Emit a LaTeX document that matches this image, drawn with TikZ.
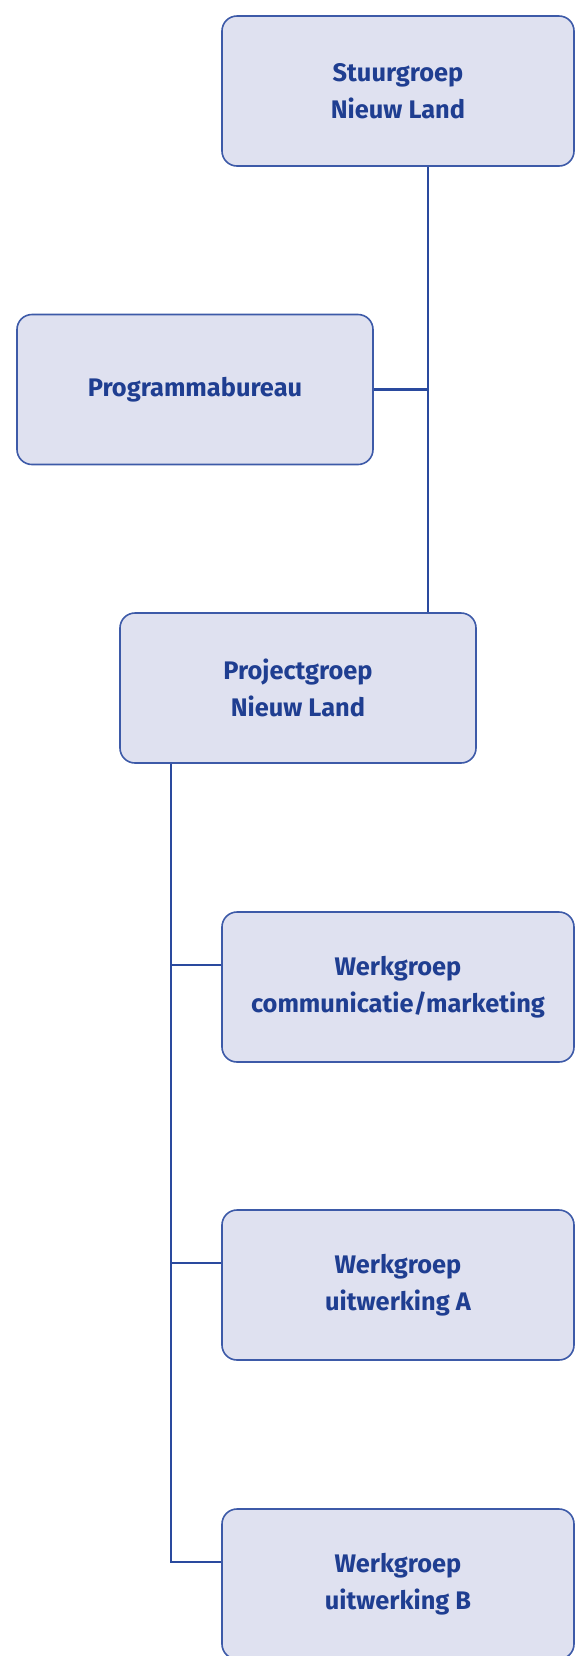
\documentclass[tikz,border=0pt]{standalone}
\usepackage{fontspec}
\setmainfont{Fira Sans}
\usetikzlibrary{positioning}
\definecolor{Ink}{HTML}{1F3E91}
\definecolor{Edge}{HTML}{3D5AA8}
\definecolor{Wire}{HTML}{2A4A9E}
\definecolor{SoftLilac}{HTML}{DFE1F0}
\begin{document}
\begin{tikzpicture}[
  unit/.style={rounded corners=7.5pt,draw=Edge,line width=0.8pt,fill=SoftLilac,minimum width=176pt,minimum height=75pt,align=center,font=\fontsize{12.7}{18.3}\selectfont\bfseries,text=Ink},
  link/.style={draw=Wire,line width=1.2pt}
]
\useasboundingbox (0,0) rectangle (287.5pt,-828pt);
\node[unit] (stuur) at (199pt,-45.5pt) {Stuurgroep\\Nieuw Land};
\node[unit,minimum width=178pt] (prog) at (97.5pt,-194.75pt) {Programmabureau};
\node[unit,minimum width=178pt] (proj) at (149pt,-344pt) {Projectgroep\\Nieuw Land};
\node[unit] (comm) at (199pt,-493.5pt) {Werkgroep\\communicatie/marketing};
\node[unit] (wga) at (199pt,-642.5pt) {Werkgroep\\uitwerking A};
\node[unit] (wgb) at (199pt,-792pt) {Werkgroep\\uitwerking B};
\coordinate (top) at (214pt,0);
\coordinate (low) at (85.5pt,0);
\draw[link] (stuur.south -| top) -- (proj.north -| top);
\draw[link] (prog.east) -- (prog.east -| top);
\draw[link] (proj.south -| low) |- ([yshift=11pt]wgb.west);
\draw[link] ([yshift=11pt]comm.west) -- ([yshift=11pt]comm.west -| low);
\draw[link] ([yshift=11pt]wga.west) -- ([yshift=11pt]wga.west -| low);
\end{tikzpicture}
\end{document}
